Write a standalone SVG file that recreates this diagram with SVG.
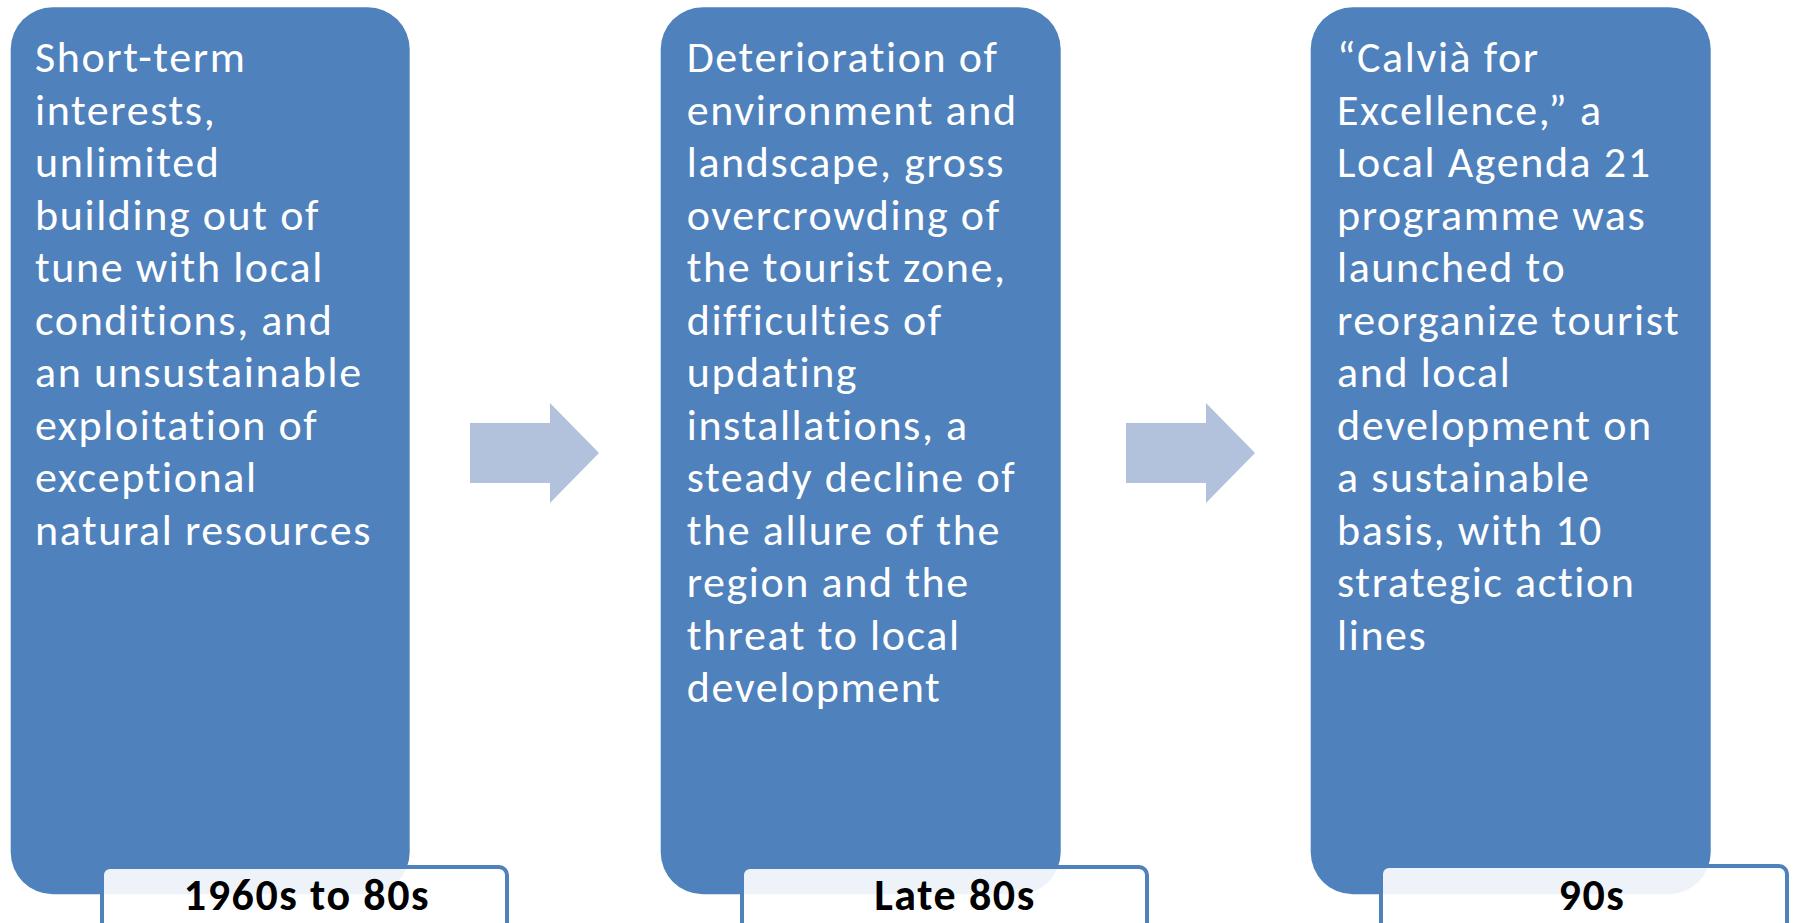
<svg xmlns="http://www.w3.org/2000/svg" width="1793" height="923" viewBox="0 0 1793 923">
<style>
.box{fill:#4F81BD}
.arrow{fill:#B3C2DC}
.lbl{fill:#FFFFFF;fill-opacity:0.9;stroke:#4F81BD;stroke-width:4}
.t{font-family:Carlito,Lato,"Liberation Sans",sans-serif;font-size:44px;letter-spacing:1.6px;fill:#FFFFFF}
.lt{font-family:Carlito,Lato,"Liberation Sans",sans-serif;font-size:44px;letter-spacing:1.6px;font-weight:bold;fill:#000000;text-anchor:middle}
</style>
<rect width="1793" height="923" fill="#FFFFFF"/>
<g id="node1">
<rect class="box" x="10.7" y="7.3" width="399" height="887" rx="42"/>
<text class="t" x="35" y="72">
<tspan x="35" y="72">Short-term</tspan>
<tspan x="35" y="124.5">interests,</tspan>
<tspan x="35" y="177">unlimited</tspan>
<tspan x="35" y="229.5">building out of</tspan>
<tspan x="35" y="282">tune with local</tspan>
<tspan x="35" y="334.5">conditions, and</tspan>
<tspan x="35" y="387">an unsustainable</tspan>
<tspan x="35" y="439.5">exploitation of</tspan>
<tspan x="35" y="492">exceptional</tspan>
<tspan x="35" y="544.5">natural resources</tspan>
</text>
</g>
<g id="node2">
<rect class="box" x="660.7" y="7.3" width="400" height="887" rx="42"/>
<text class="t" x="686.7" y="72">
<tspan x="686.7" y="72">Deterioration of</tspan>
<tspan x="686.7" y="124.5">environment and</tspan>
<tspan x="686.7" y="177">landscape, gross</tspan>
<tspan x="686.7" y="229.5">overcrowding of</tspan>
<tspan x="686.7" y="282">the tourist zone,</tspan>
<tspan x="686.7" y="334.5">difficulties of</tspan>
<tspan x="686.7" y="387">updating</tspan>
<tspan x="686.7" y="439.5">installations, a</tspan>
<tspan x="686.7" y="492">steady decline of</tspan>
<tspan x="686.7" y="544.5">the allure of the</tspan>
<tspan x="686.7" y="597">region and the</tspan>
<tspan x="686.7" y="649.5">threat to local</tspan>
<tspan x="686.7" y="702">development</tspan>
</text>
</g>
<g id="node3">
<rect class="box" x="1310.7" y="7.3" width="400" height="887" rx="42"/>
<text class="t" x="1337" y="72">
<tspan x="1337" y="72">“Calvià for</tspan>
<tspan x="1337" y="124.5">Excellence,” a</tspan>
<tspan x="1337" y="177">Local Agenda 21</tspan>
<tspan x="1337" y="229.5">programme was</tspan>
<tspan x="1337" y="282">launched to</tspan>
<tspan x="1337" y="334.5">reorganize tourist</tspan>
<tspan x="1337" y="387">and local</tspan>
<tspan x="1337" y="439.5">development on</tspan>
<tspan x="1337" y="492">a sustainable</tspan>
<tspan x="1337" y="544.5">basis, with 10</tspan>
<tspan x="1337" y="597">strategic action</tspan>
<tspan x="1337" y="649.5">lines</tspan>
</text>
</g>
<g id="connectors">
<polygon class="arrow" points="470,423 550,423 550,403 599,453 550,503 550,483 470,483"/>
<polygon class="arrow" points="1126,423 1206,423 1206,403 1255,453 1206,503 1206,483 1126,483"/>
</g>
<g id="label1">
<rect class="lbl" x="102" y="867" width="405" height="100" rx="8"/>
<text class="lt" x="307" y="910">1960s to 80s</text>
</g>
<g id="label2">
<rect class="lbl" x="742" y="867" width="405" height="100" rx="8"/>
<text class="lt" x="955" y="910">Late 80s</text>
</g>
<g id="label3">
<rect class="lbl" x="1381" y="866" width="406" height="100" rx="8"/>
<text class="lt" x="1592" y="910">90s</text>
</g>
</svg>
